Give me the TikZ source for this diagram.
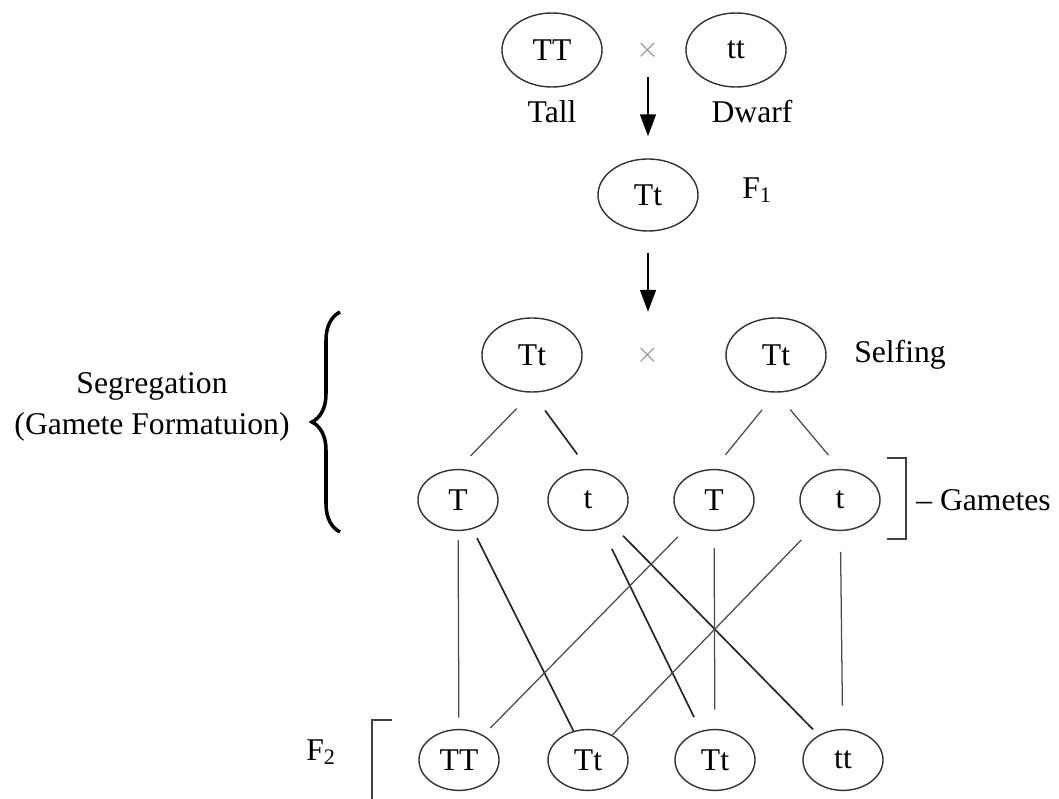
\documentclass[tikz,border=0pt]{standalone}
\usepackage{fontspec}
\setmainfont{Liberation Serif}
\usetikzlibrary{shapes.geometric,arrows.meta,decorations.pathreplacing}
\tikzset{geno/.style={
        ellipse,
        draw=black!80,
        line width=1pt,
        inner sep=0pt,
        minimum width=2.5cm,
        minimum height=1.85cm},
        %
        gamete/.style={
            geno,
            minimum width=2cm,
            minimum height=1.52cm},
        link/.style={draw=black!70,line width=0.9pt},
        dlink/.style={draw=black!85,line width=1.2pt},
        arr/.style={draw=black,line width=1.2pt,-{Triangle[length=0.55cm,width=0.4cm]}}
        }
\def\crossc{black!45}

\begin{document}
\begin{tikzpicture}[x=0.025cm,y=-0.025cm,
                font=\fontsize{22.5}{29}\selectfont]
\useasboundingbox (0,0) rectangle (1059,799);

% parents and F1
\node[geno] (TT) at (552,50) {TT};
\node[geno] (tt) at (736,50) {tt};
\node[text=\crossc,inner sep=0pt] (cross1) at (648,50) {$\times$};
\node (tall) at (552,112) {Tall};
\node (dwarf) at (752,112) {Dwarf};
\node[geno,minimum height=1.8cm] (F1) at (648,195) {Tt};
\node (f1lab) at (757,190) {F\textsubscript{1}};
\draw[arr,shorten <=0.68cm,shorten >=0.55cm] (cross1.center) -- (F1.north);

% selfing
\node[geno] (selfL) at (532,355) {Tt};
\node[geno] (selfR) at (776,355) {Tt};
\node[text=\crossc,inner sep=0pt] (cross2) at (648,355) {$\times$};
\node (selfing) at (900,355) {Selfing};
\draw[arr,shorten <=0.52cm,shorten >=1.08cm] (F1.south) -- (cross2.center);

% gametes
\node[gamete] (g1) at (458,500) {T};
\node[gamete] (g2) at (588,500) {t};
\node[gamete] (g3) at (714,500) {T};
\node[gamete] (g4) at (840,500) {t};
\draw[link,shorten <=0.55cm,shorten >=0.45cm] (selfL.south) -- (g1.north);
\draw[dlink,shorten <=0.55cm,shorten >=0.45cm] (selfL.south) -- (g2.north);
\draw[link,shorten <=0.55cm,shorten >=0.45cm] (selfR.south) -- (g3.north);
\draw[link,shorten <=0.55cm,shorten >=0.45cm] (selfR.south) -- (g4.north);

\node[align=center] (seg) at (152,407) {Segregation\\(Gamete Formatuion)};
\draw[line width=2.5pt,decorate,decoration={brace,amplitude=0.7cm}] (340,532) -- (340,312);
\draw[draw=black!75,line width=1pt] (887,458) -- (906,458) -- (906,539) -- (887,539);
\node[anchor=west,inner sep=0pt] (gamlab) at (916,500) {– Gametes};

% F2
\node[gamete] (f2a) at (459,760) {TT};
\node[gamete] (f2b) at (588,760) {Tt};
\node[gamete] (f2c) at (715,760) {Tt};
\node[gamete] (f2d) at (843,760) {tt};
\node (f2lab) at (321,752) {F\textsubscript{2}};
\draw[draw=black!75,line width=1pt] (392,720) -- (372,720) -- (372,799);

\draw[link,shorten <=0.22cm,shorten >=0.28cm] (g1) -- (f2a);
\draw[dlink,shorten <=0.25cm] (g1) -- (f2b);
\draw[dlink,shorten <=0.55cm,shorten >=0.38cm] (g2) -- (f2c);
\draw[dlink,shorten <=0.38cm,shorten >=0.2cm] (g2) -- (f2d);
\draw[link,shorten <=0.42cm,shorten >=0.25cm] (g3) -- (f2a);
\draw[link,shorten <=0.42cm,shorten >=0.48cm] (g3) -- (f2c);
\draw[link,shorten <=0.52cm] (g4) -- (f2b);
\draw[link,shorten <=0.52cm,shorten >=0.58cm] (g4) -- (f2d);
\end{tikzpicture}
\end{document}
